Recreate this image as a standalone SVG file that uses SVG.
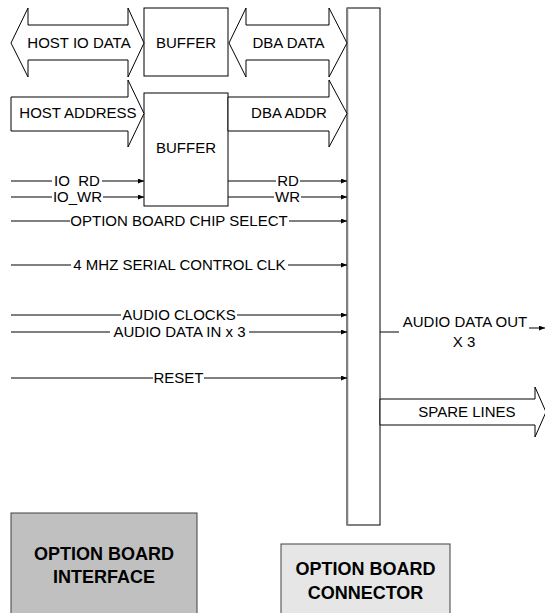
<svg xmlns="http://www.w3.org/2000/svg" width="545" height="613" viewBox="0 0 545 613">
<defs>
<marker id="ah" viewBox="0 0 6 5" refX="6" refY="2.5" markerWidth="6" markerHeight="5" markerUnits="userSpaceOnUse" orient="auto">
<path d="M0,0 L6,2.5 L0,5 z" fill="#000"/>
</marker>
</defs>
<style>
text{font-family:"Liberation Sans",Arial,sans-serif;font-size:15px;fill:#000;text-anchor:middle;white-space:pre}
.bold{font-weight:bold;font-size:18px}
.box{fill:#fff;stroke:#000;stroke-width:1}
.bus{fill:#fff;stroke:#000;stroke-width:1;stroke-linejoin:miter}
.ln{stroke:#000;stroke-width:1;fill:none}
.arr{marker-end:url(#ah)}
</style>
<rect width="545" height="613" fill="#fff"/>

<g id="buffer1">
<rect class="box" x="144" y="8" width="84" height="68"/>
<text x="186" y="48">BUFFER</text>
</g>
<g id="buffer2">
<rect class="box" x="144" y="93" width="84" height="113"/>
<text x="186" y="153">BUFFER</text>
</g>
<g id="connector">
<rect class="box" x="347" y="8" width="33" height="517"/>
<line x1="347.5" y1="8" x2="347.5" y2="525" stroke="#808080" stroke-width="1.5"/>
</g>
<g id="option-board-interface">
<rect x="11" y="513" width="186" height="110" fill="#c0c0c0" stroke="#404040" stroke-width="1"/>
<text class="bold" x="104" y="560">OPTION BOARD</text>
<text class="bold" x="104" y="583">INTERFACE</text>
</g>
<g id="option-board-connector">
<rect x="281" y="544" width="169" height="80" fill="#e6e6e6" stroke="#404040" stroke-width="1"/>
<text class="bold" x="365.5" y="575">OPTION BOARD</text>
<text class="bold" x="365.5" y="599">CONNECTOR</text>
</g>

<g id="connectors">
<g id="host-io-data">
<polygon class="bus" points="11,43 28,8 28,25 128,25 128,8 144,43 128,77 128,60 28,60 28,77"/>
<text x="79" y="48">HOST IO DATA</text>
</g>
<g id="host-address">
<polygon class="bus" points="11,97 128,97 128,80 144,113.5 128,147 128,131 11,131"/>
<text x="78" y="118">HOST ADDRESS</text>
</g>
<g id="dba-data">
<polygon class="bus" points="229,43 246,8 246,25 329,25 329,8 347,43 329,77 329,60 246,60 246,77"/>
<text x="288.5" y="48">DBA DATA</text>
</g>
<g id="dba-addr">
<polygon class="bus" points="228,97 329,97 329,80 347,113.5 329,147 329,131 228,131"/>
<text x="289" y="118">DBA ADDR</text>
</g>
<g id="spare-lines">
<polygon class="bus" points="380,399 535,399 535,387 546,412 535,437 535,425 380,425"/>
<text x="467" y="417">SPARE LINES</text>
</g>

<g id="io-rd">
<line class="ln" x1="11" y1="181" x2="52" y2="181"/>
<line class="ln arr" x1="102" y1="181" x2="144" y2="181"/>
<text x="77" y="186">IO  RD</text>
</g>
<g id="io-wr">
<line class="ln" x1="11" y1="197" x2="52" y2="197"/>
<line class="ln arr" x1="103" y1="197" x2="144" y2="197"/>
<text x="77.5" y="202">IO_WR</text>
</g>
<g id="rd">
<line class="ln" x1="228" y1="181" x2="276" y2="181"/>
<line class="ln arr" x1="300" y1="181" x2="347" y2="181"/>
<text x="288" y="186">RD</text>
</g>
<g id="wr">
<line class="ln" x1="228" y1="197" x2="274" y2="197"/>
<line class="ln arr" x1="301" y1="197" x2="347" y2="197"/>
<text x="287.5" y="202">WR</text>
</g>
<g id="chip-select">
<line class="ln" x1="11" y1="221" x2="70" y2="221"/>
<line class="ln arr" x1="289" y1="221" x2="347" y2="221"/>
<text x="179" y="226">OPTION BOARD CHIP SELECT</text>
</g>
<g id="serial-clk">
<line class="ln" x1="11" y1="265" x2="71" y2="265"/>
<line class="ln arr" x1="288" y1="265" x2="347" y2="265"/>
<text x="179.5" y="270">4 MHZ SERIAL CONTROL CLK</text>
</g>
<g id="audio-clocks">
<line class="ln" x1="11" y1="315" x2="121" y2="315"/>
<line class="ln arr" x1="237" y1="315" x2="347" y2="315"/>
<text x="179" y="320">AUDIO CLOCKS</text>
</g>
<g id="audio-data-in">
<line class="ln" x1="11" y1="332" x2="110" y2="332"/>
<line class="ln arr" x1="249" y1="332" x2="347" y2="332"/>
<text x="179.5" y="337">AUDIO DATA IN x 3</text>
</g>
<g id="reset">
<line class="ln" x1="11" y1="378" x2="153" y2="378"/>
<line class="ln arr" x1="204" y1="378" x2="347" y2="378"/>
<text x="178.5" y="383">RESET</text>
</g>
<g id="audio-data-out">
<line class="ln" x1="380" y1="332" x2="399" y2="332"/>
<line class="ln arr" x1="529" y1="328" x2="545" y2="328"/>
<text x="465" y="327">AUDIO DATA OUT</text>
<text x="464" y="347">X 3</text>
</g>
</g>
</svg>
